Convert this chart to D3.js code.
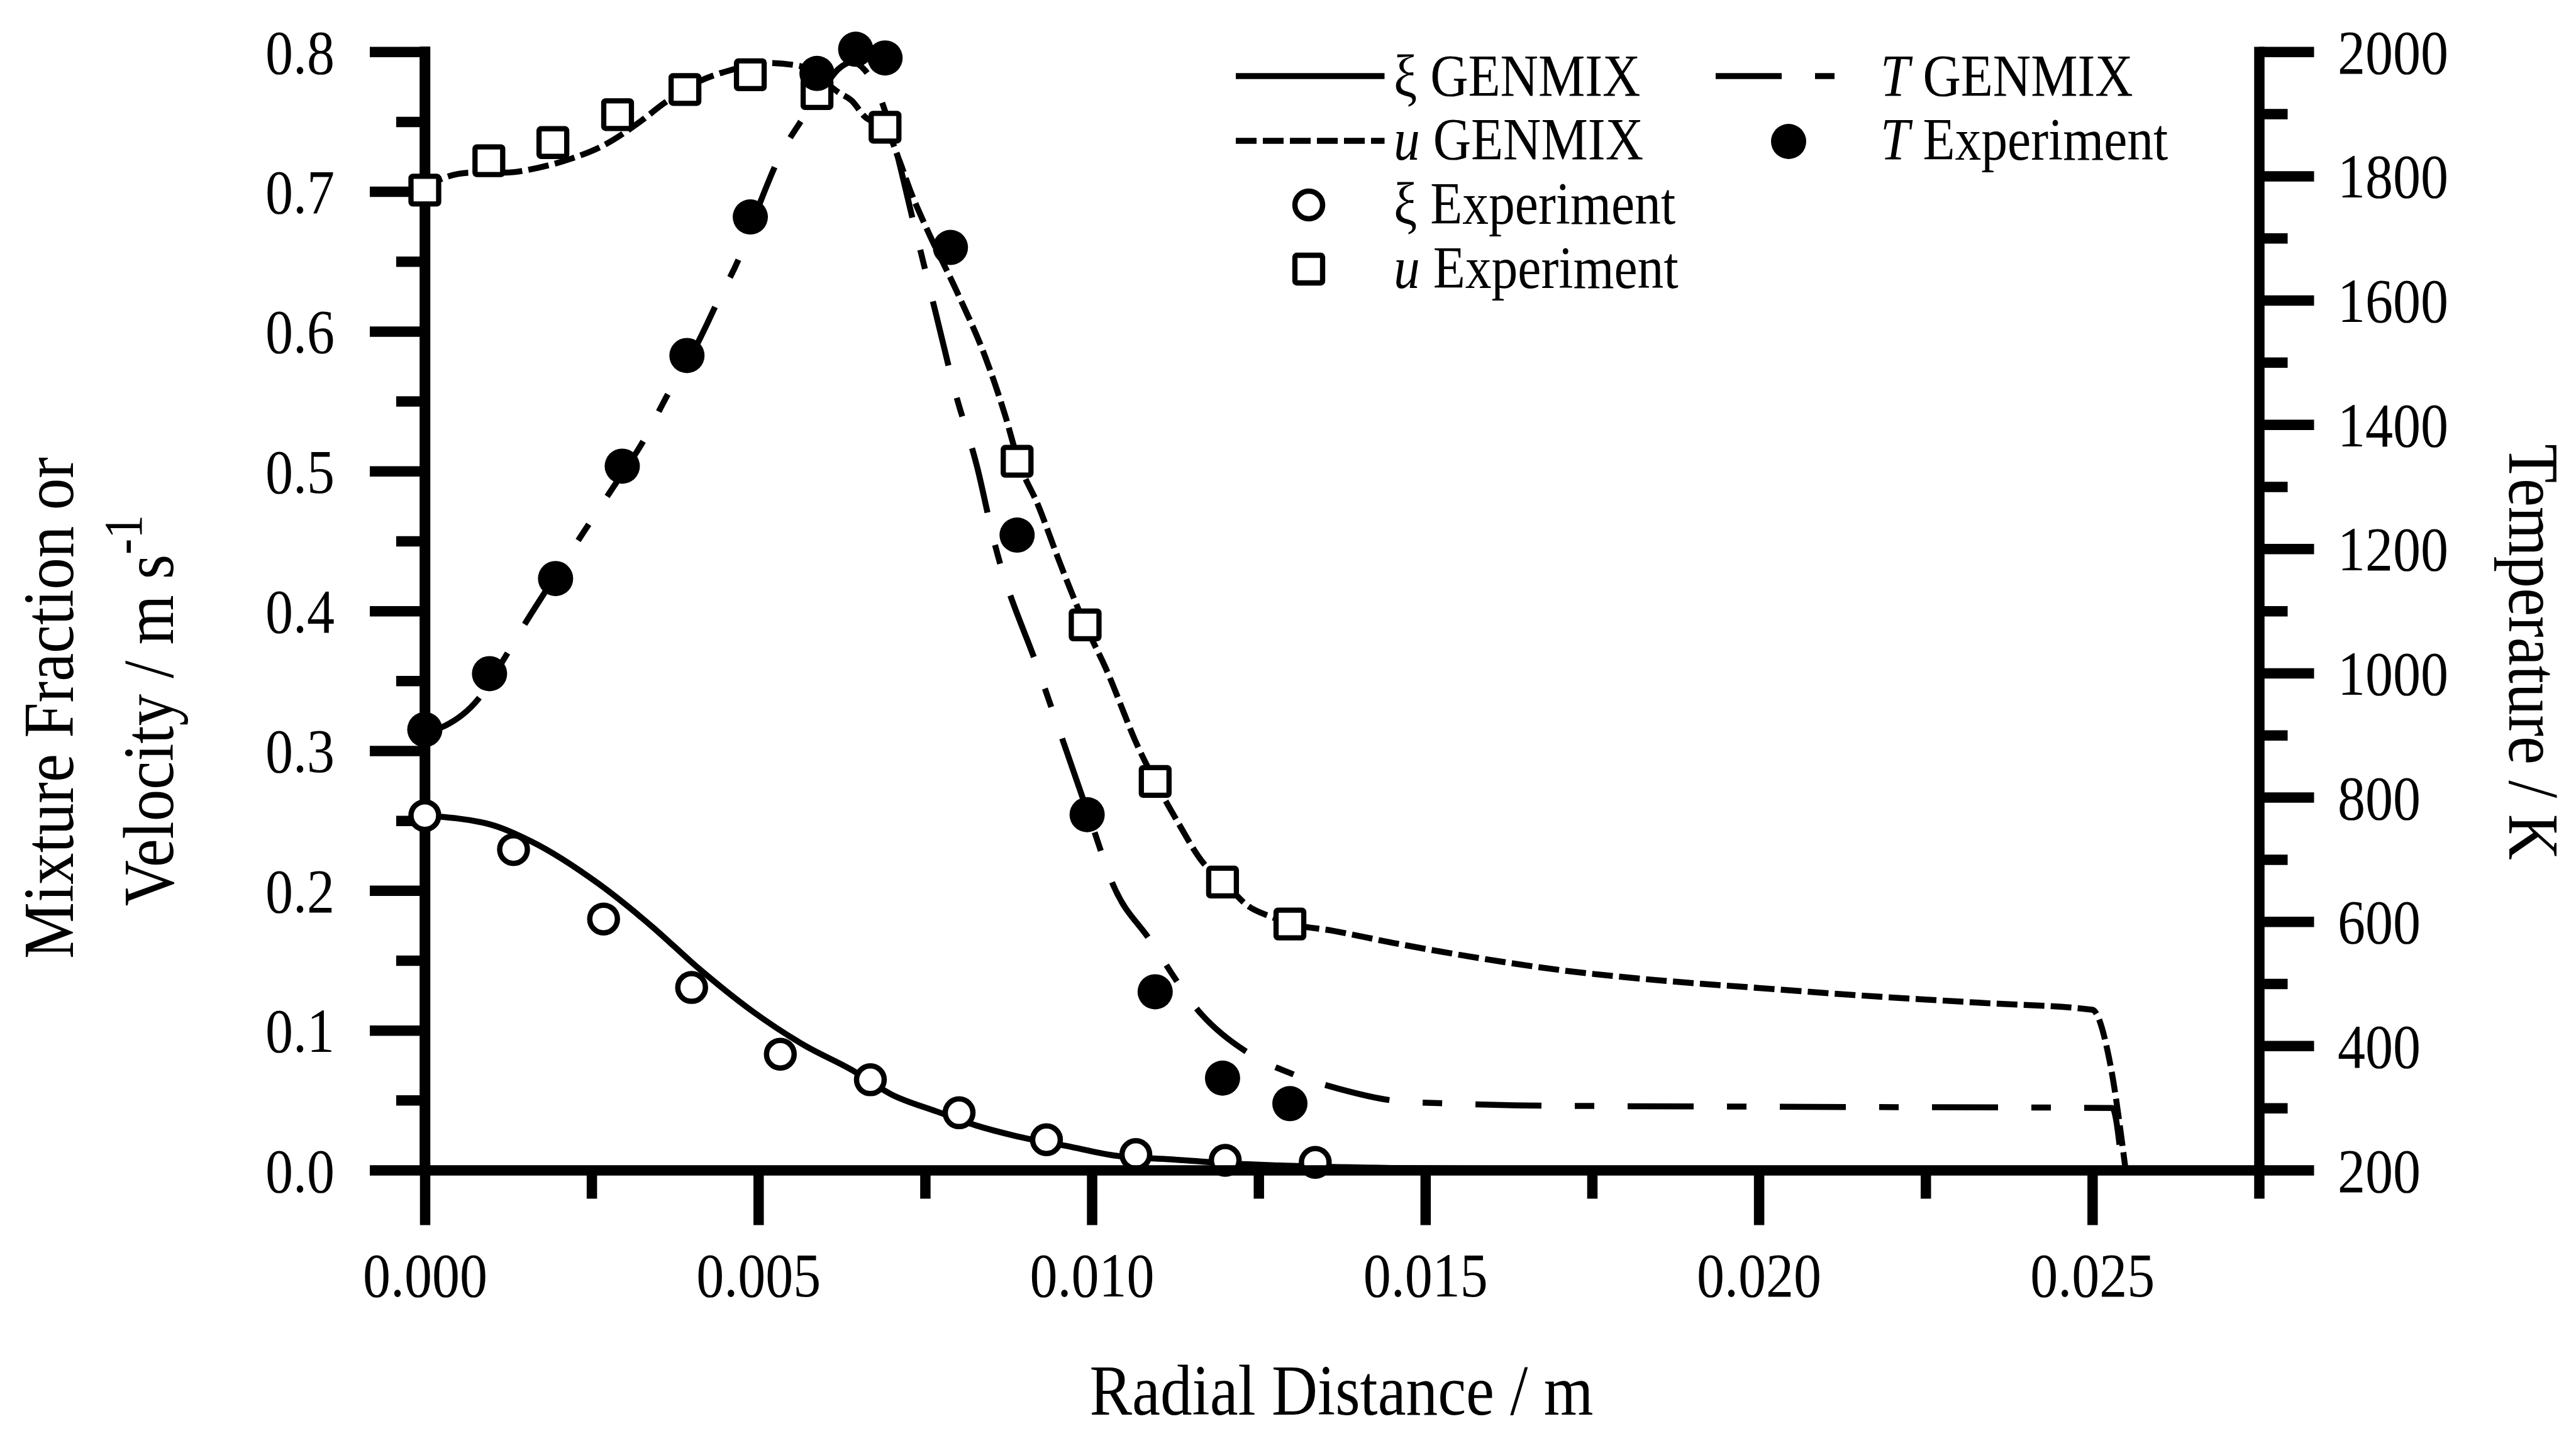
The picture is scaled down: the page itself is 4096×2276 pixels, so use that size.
<!DOCTYPE html>
<html>
<head>
<meta charset="utf-8">
<script src="https://cdn.jsdelivr.net/npm/d3@7"></script>
<style>
  html, body { margin: 0; padding: 0; background: #fff; }
  svg { display: block; }
  text { font-family: "Liberation Serif", "Times New Roman", serif; fill: #000; }
</style>
</head>
<body>
<script>
const width = 4096;
const height = 2276;

// ---- data ----
// xi (mixture fraction) experiment, open circles, left axis
const xiExpX = [0, 0.00133, 0.00268, 0.0040, 0.00533, 0.00668, 0.00801, 0.00932, 0.01066, 0.0120, 0.01335];
const xiExpY = [0.2536, 0.2293, 0.1796, 0.1306, 0.0829, 0.0646, 0.041, 0.0217, 0.0111, 0.007, 0.0055];

// u (velocity) experiment, open squares, left axis
const uExpX = [0, 0.00096, 0.00192, 0.00289, 0.0039, 0.00488, 0.00588, 0.0069, 0.00888, 0.0099, 0.01095, 0.01196, 0.01297];
const uExpY = [0.701, 0.722, 0.735, 0.755, 0.773, 0.7835, 0.770, 0.746, 0.507, 0.390, 0.278, 0.206, 0.176];

// T experiment, filled circles, right axis
const tExpX = [0, 0.00097, 0.00196, 0.00296, 0.00393, 0.00488, 0.00588, 0.00646, 0.0069, 0.00788, 0.00888, 0.00993, 0.01095, 0.01196, 0.01297];
const tExpY = [909, 999, 1152, 1333, 1511, 1734, 1965, 2004, 1990, 1685, 1222, 772, 487, 348, 307];

// GENMIX predictions
const xiGenX = [0, 0.001, 0.0016, 0.0026, 0.0034, 0.0041, 0.0049, 0.0057, 0.0064, 0.0070, 0.00767, 0.00826, 0.00885, 0.0097, 0.01037, 0.0112, 0.012, 0.013, 0.0145, 0.017, 0.020, 0.0255];
const xiGenY = [0.2535, 0.247, 0.235, 0.205, 0.1745, 0.1445, 0.114, 0.089, 0.0717, 0.054, 0.042, 0.032, 0.0245, 0.0165, 0.0102, 0.0076, 0.005, 0.003, 0.0015, 0.0008, 0.0004, 0];

const uGenX = [0, 0.0002, 0.0007, 0.0012, 0.0017, 0.0022, 0.0027, 0.0032, 0.0036, 0.0041, 0.0046, 0.0051, 0.0056, 0.0059, 0.0062, 0.0064, 0.0066, 0.0069, 0.0071, 0.0073, 0.0075, 0.0080, 0.0084, 0.0087, 0.0089, 0.0092, 0.0095, 0.0099, 0.0102, 0.0107, 0.01095, 0.0113, 0.01165, 0.0120, 0.01234, 0.0127, 0.0130, 0.0136, 0.01455, 0.0158, 0.0171, 0.0183, 0.0199, 0.0215, 0.0233, 0.0250, 0.02527, 0.0255];
const uGenY = [0.701, 0.708, 0.7135, 0.7135, 0.717, 0.7236, 0.7335, 0.749, 0.7636, 0.7785, 0.787, 0.792, 0.790, 0.782, 0.771, 0.765, 0.7533, 0.746, 0.724, 0.698, 0.676, 0.626, 0.582, 0.540, 0.507, 0.475, 0.437, 0.390, 0.360, 0.302, 0.278, 0.248, 0.221, 0.205, 0.189, 0.181, 0.176, 0.1713, 0.1622, 0.1517, 0.1426, 0.1366, 0.1306, 0.125, 0.1197, 0.1147, 0.0756, 0];

const tGenX = [0, 0.0003, 0.0008, 0.0012, 0.0015, 0.0018, 0.0024, 0.0028, 0.0033, 0.0036, 0.0041, 0.0044, 0.0047, 0.0050, 0.0053, 0.0057, 0.0060, 0.0062, 0.0064, 0.0066, 0.0068, 0.0074, 0.00767, 0.00795, 0.00828, 0.00854, 0.0092, 0.0100, 0.01032, 0.01086, 0.01165, 0.0124, 0.0130, 0.0137, 0.0146, 0.0154, 0.0165, 0.0200, 0.0253, 0.02545];
const tGenY = [905, 915, 958, 1025, 1079, 1130, 1230, 1295, 1378, 1440, 1533, 1600, 1665, 1750, 1827, 1898, 1945, 1972, 1983, 1970, 1933, 1693, 1575, 1453, 1332, 1210, 1005, 757, 659, 572, 450, 385, 355, 331, 311, 307, 304, 302, 300, 200];

// ticks
const xMajor = [0, 0.005, 0.010, 0.015, 0.020, 0.025];
const xMinor = [0.0025, 0.0075, 0.0125, 0.0175, 0.0225, 0.0275];
const yLMajor = [0, 0.1, 0.2, 0.3, 0.4, 0.5, 0.6, 0.7, 0.8];
const yLMinor = [0.05, 0.15, 0.25, 0.35, 0.45, 0.55, 0.65, 0.75];
const yRMajor = [200, 400, 600, 800, 1000, 1200, 1400, 1600, 1800, 2000];
const yRMinor = [300, 500, 700, 900, 1100, 1300, 1500, 1700, 1900];

// ---- layout ----
const plot = {left: 675.5, right: 3592, top: 82.25, bottom: 1861};
const majorLen = 87.5, minorLen = 45.5, axisW = 16.5;
const sx = 0.88; // the scanned serif type is a bit condensed

const x = d3.scaleLinear().domain([0, 0.0275]).range([plot.left, plot.right]);
const yL = d3.scaleLinear().domain([0, 0.8]).range([plot.bottom, plot.top]);
const yR = d3.scaleLinear().domain([200, 2000]).range([plot.bottom, plot.top]);

const svg = d3.select('body').append('svg')
  .attr('width', width).attr('height', height)
  .attr('viewBox', `0 0 ${width} ${height}`);

svg.append('rect').attr('width', width).attr('height', height).attr('fill', '#fff');

const styleAxis = (g) => {
  g.attr('font-family', null).attr('font-size', 100);
  g.select('.domain').attr('stroke-width', axisW).attr('stroke-linecap', 'square');
  g.selectAll('.tick line').attr('stroke-width', axisW);
};

// left axis
const gL = svg.append('g').attr('transform', `translate(${plot.left},0)`);
gL.call(d3.axisLeft(yL).tickValues(yLMinor).tickSize(minorLen).tickSizeOuter(0).tickFormat(''))
  .call(styleAxis);
gL.select('.domain').remove();
const gL2 = svg.append('g').attr('transform', `translate(${plot.left},0)`);
gL2.call(d3.axisLeft(yL).tickValues(yLMajor).tickSize(majorLen).tickSizeOuter(0).tickFormat(d3.format('.1f')))
  .call(styleAxis);
gL2.selectAll('.tick text').attr('x', -143.5 / sx).attr('dy', '0.34em').attr('transform', `scale(${sx},1)`);

// right axis
const gR = svg.append('g').attr('transform', `translate(${plot.right},0)`);
gR.call(d3.axisRight(yR).tickValues(yRMinor).tickSize(minorLen).tickSizeOuter(0).tickFormat(''))
  .call(styleAxis);
gR.select('.domain').remove();
const gR2 = svg.append('g').attr('transform', `translate(${plot.right},0)`);
gR2.call(d3.axisRight(yR).tickValues(yRMajor).tickSize(majorLen).tickSizeOuter(0).tickFormat(d3.format('d')))
  .call(styleAxis);
gR2.selectAll('.tick text').attr('x', 125 / sx).attr('dy', '0.34em').attr('transform', `scale(${sx},1)`);

// curves
const lineL = d3.line().x(d => x(d[0])).y(d => yL(d[1])).curve(d3.curveMonotoneX);
const lineR = d3.line().x(d => x(d[0])).y(d => yR(d[1])).curve(d3.curveMonotoneX);
const zip = (a, b) => a.map((v, i) => [v, b[i]]);

const curves = svg.append('g').attr('fill', 'none').attr('stroke', '#000').attr('stroke-width', 9.5);
curves.append('path').attr('d', lineL(zip(xiGenX, xiGenY)));
curves.append('path').attr('d', lineL(zip(uGenX, uGenY))).attr('stroke-dasharray', '33,10');
curves.append('path').attr('d', lineR(zip(tGenX, tGenY))).attr('stroke-dasharray', '105,53,31,53');

// left axis spine
svg.append('line')
  .attr('x1', plot.left).attr('x2', plot.left).attr('y1', plot.top).attr('y2', plot.bottom)
  .attr('stroke', '#000').attr('stroke-width', axisW).attr('stroke-linecap', 'square');

// markers (they hide the left spine, like the scan)
const marks = svg.append('g');
marks.selectAll('rect.u').data(zip(uExpX, uExpY)).enter().append('rect')
  .attr('class', 'u')
  .attr('x', d => x(d[0]) - 22).attr('y', d => yL(d[1]) - 22)
  .attr('width', 44).attr('height', 44).attr('rx', 3)
  .attr('fill', '#fff').attr('stroke', '#000').attr('stroke-width', 8.3);
marks.selectAll('circle.xi').data(zip(xiExpX, xiExpY)).enter().append('circle')
  .attr('class', 'xi')
  .attr('cx', d => x(d[0])).attr('cy', d => yL(d[1])).attr('r', 22)
  .attr('fill', '#fff').attr('stroke', '#000').attr('stroke-width', 8.5);
marks.selectAll('circle.t').data(zip(tExpX, tExpY)).enter().append('circle')
  .attr('class', 't')
  .attr('cx', d => x(d[0])).attr('cy', d => yR(d[1])).attr('r', 28)
  .attr('fill', '#000');

// bottom axis drawn last (it runs over the low circles in the original)
const gB = svg.append('g').attr('transform', `translate(0,${plot.bottom})`);
gB.call(d3.axisBottom(x).tickValues(xMinor).tickSize(minorLen).tickSizeOuter(0).tickFormat(''))
  .call(styleAxis);
gB.select('.domain').remove();
const gB2 = svg.append('g').attr('transform', `translate(0,${plot.bottom})`);
gB2.call(d3.axisBottom(x).tickValues(xMajor).tickSize(majorLen).tickSizeOuter(0).tickFormat(d3.format('.3f')))
  .call(styleAxis);
gB2.selectAll('.tick text').attr('y', 201).attr('dy', 0).attr('transform', `scale(${sx},1)`);

// axis titles
svg.append('text')
  .attr('transform', `translate(2133,2250) scale(${sx},1)`)
  .attr('text-anchor', 'middle').attr('font-size', 115)
  .text('Radial Distance / m');

svg.append('text')
  .attr('transform', `translate(115.5,1126) rotate(-90) scale(${sx},1)`)
  .attr('text-anchor', 'middle').attr('font-size', 115)
  .text('Mixture Fraction or');

const vel = svg.append('text')
  .attr('transform', `translate(275,1130) rotate(-90) scale(${sx},1)`)
  .attr('text-anchor', 'middle').attr('font-size', 115);
vel.append('tspan').text('Velocity / m s');
vel.append('tspan').attr('font-size', 86).attr('dy', -50).text('-1');

svg.append('text')
  .attr('transform', `translate(3990,1037) rotate(90) scale(${sx},1)`)
  .attr('text-anchor', 'middle').attr('font-size', 115)
  .text('Temperature / K');

// legend
const leg = svg.append('g');
const legLine = (x1, x2, y, dash) => {
  leg.append('line').attr('x1', x1).attr('x2', x2).attr('y1', y).attr('y2', y)
    .attr('stroke', '#000').attr('stroke-width', 9.5)
    .attr('stroke-dasharray', dash);
};
const legText = (xPos, yPos, sym, italic, rest) => {
  const t = leg.append('text')
    .attr('transform', `translate(${xPos},${yPos}) scale(${sx},1)`)
    .attr('font-size', 95);
  t.append('tspan').attr('font-style', italic ? 'italic' : null).text(sym);
  t.append('tspan').text(rest);
};

legLine(1965, 2201.5, 121, null);
legText(2216, 153, 'ξ', false, ' GENMIX');
legLine(1965, 2201.5, 224, '33,10');
legText(2216, 254, 'u', true, ' GENMIX');
leg.append('circle').attr('cx', 2081).attr('cy', 326).attr('r', 22)
  .attr('fill', '#fff').attr('stroke', '#000').attr('stroke-width', 8.5);
legText(2216, 356, 'ξ', false, ' Experiment');
leg.append('rect').attr('x', 2081 - 22).attr('y', 428 - 22).attr('width', 44).attr('height', 44).attr('rx', 3)
  .attr('fill', '#fff').attr('stroke', '#000').attr('stroke-width', 8.3);
legText(2216, 458, 'u', true, ' Experiment');

legLine(2728, 2920, 121, '105,53,31,53');
legText(2990, 153, 'T', true, ' GENMIX');
leg.append('circle').attr('cx', 2844).attr('cy', 225).attr('r', 28).attr('fill', '#000');
legText(2990, 254, 'T', true, ' Experiment');
</script>
</body>
</html>
